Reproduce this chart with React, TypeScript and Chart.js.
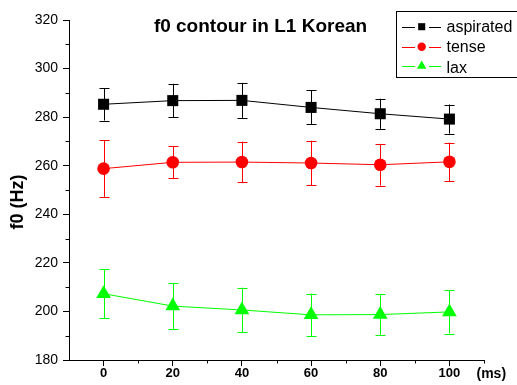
import React, { useEffect, useRef } from "react";
import { Chart, registerables } from "chart.js";

Chart.register(...registerables);

const times = [0, 20, 40, 60, 80, 100];
const aspiratedMean = [285.3, 286.8, 286.9, 284.0, 281.4, 279.2];
const aspiratedErr = [6.7, 6.9, 7.2, 7.0, 6.2, 6.0];
const tenseMean = [258.8, 261.4, 261.5, 261.1, 260.4, 261.6];
const tenseErr = [11.6, 6.6, 8.4, 9.2, 8.6, 7.9];
const laxMean = [207.3, 202.2, 200.6, 198.6, 198.7, 199.8];
const laxErr = [10.1, 9.5, 9.2, 8.7, 8.5, 8.9];

const seriesNames = ["aspirated", "tense", "lax"];
const seriesColors = ["#000000", "#ff0000", "#00ff00"];
const seriesStyles = ["rect", "circle", "triangle"];
const seriesRadius = [7.8, 6.3, 8.5];
const legendRadius = [5, 4.2, 5.4];

const yTicks = [180, 200, 220, 240, 260, 280, 300, 320];
const xTickLabels = [0, 20, 40, 60, 80, 100];

const chartTitle = "f0 contour in L1 Korean";
const yTitle = "f0 (Hz)";
const xUnit = "(ms)";

const FONT = "'Liberation Sans', Arial, Helvetica, sans-serif";

const means = [aspiratedMean, tenseMean, laxMean];
const errs = [aspiratedErr, tenseErr, laxErr];

function drawMarker(ctx: CanvasRenderingContext2D, style: string, x: number, y: number, r: number, color: string) {
  ctx.save();
  ctx.fillStyle = color;
  ctx.beginPath();
  if (style === "rect") {
    const s = Math.SQRT1_2 * r;
    ctx.rect(x - s, y - s, 2 * s, 2 * s);
  } else if (style === "circle") {
    ctx.arc(x, y, r, 0, Math.PI * 2);
  } else {
    let rad = 0;
    ctx.moveTo(x + Math.sin(rad) * r, y - Math.cos(rad) * r);
    rad += (2 * Math.PI) / 3;
    ctx.lineTo(x + Math.sin(rad) * r, y - Math.cos(rad) * r);
    rad += (2 * Math.PI) / 3;
    ctx.lineTo(x + Math.sin(rad) * r, y - Math.cos(rad) * r);
    ctx.closePath();
  }
  ctx.fill();
  ctx.restore();
}

const decorPlugin = {
  id: "decor",
  beforeDatasetsDraw(chart: any) {
    const ctx = chart.ctx as CanvasRenderingContext2D;
    const xs = chart.scales.x;
    const ys = chart.scales.y;
    ctx.save();
    ctx.lineWidth = 1;
    means.forEach((m, si) => {
      ctx.strokeStyle = seriesColors[si];
      m.forEach((v, i) => {
        const px = Math.round(xs.getPixelForValue(times[i])) + 0.5;
        const top = ys.getPixelForValue(v + errs[si][i]);
        const bot = ys.getPixelForValue(v - errs[si][i]);
        ctx.beginPath();
        ctx.moveTo(px, top);
        ctx.lineTo(px, bot);
        ctx.moveTo(px - 5, Math.round(top) + 0.5);
        ctx.lineTo(px + 5, Math.round(top) + 0.5);
        ctx.moveTo(px - 5, Math.round(bot) + 0.5);
        ctx.lineTo(px + 5, Math.round(bot) + 0.5);
        ctx.stroke();
      });
    });
    ctx.restore();
  },
  afterDraw(chart: any) {
    const ctx = chart.ctx as CanvasRenderingContext2D;
    const xs = chart.scales.x;
    const ys = chart.scales.y;
    const area = chart.chartArea;
    ctx.save();
    // minor ticks
    ctx.strokeStyle = "#000";
    ctx.lineWidth = 1;
    ctx.beginPath();
    for (let v = 190; v < 320; v += 20) {
      const py = Math.round(ys.getPixelForValue(v)) + 0.5;
      ctx.moveTo(area.left - 3.5, py);
      ctx.lineTo(area.left, py);
    }
    for (let v = 10; v <= 110; v += 20) {
      const px = Math.round(xs.getPixelForValue(v)) + 0.5;
      ctx.moveTo(px, area.bottom);
      ctx.lineTo(px, area.bottom + 3.5);
    }
    ctx.stroke();

    // title
    ctx.fillStyle = "#000";
    ctx.font = `bold 19px ${FONT}`;
    ctx.textAlign = "center";
    ctx.textBaseline = "alphabetic";
    ctx.fillText(chartTitle, 260.5, 31.5);

    // y title
    ctx.save();
    ctx.translate(22.5, 202);
    ctx.rotate(-Math.PI / 2);
    ctx.font = `bold 18px ${FONT}`;
    ctx.textAlign = "center";
    ctx.textBaseline = "alphabetic";
    ctx.fillText(yTitle, 0, 0);
    ctx.restore();

    // unit
    ctx.font = `bold 14px ${FONT}`;
    ctx.textAlign = "left";
    ctx.textBaseline = "alphabetic";
    ctx.fillText(xUnit, 476.5, 378);

    // legend
    ctx.fillStyle = "#fff";
    ctx.fillRect(396.5, 11.5, 130, 66);
    ctx.strokeStyle = "#000";
    ctx.strokeRect(396.5, 11.5, 130, 66);
    const rowsMarker = [26.7, 46.7, 66];
    const rowsText = [31.5, 52, 72.5];
    seriesNames.forEach((name, i) => {
      const cy = rowsMarker[i];
      ctx.strokeStyle = seriesColors[i];
      ctx.lineWidth = 1;
      const ly = Math.round(cy) + 0.5;
      ctx.beginPath();
      ctx.moveTo(402, ly);
      ctx.lineTo(415, ly);
      ctx.moveTo(429, ly);
      ctx.lineTo(441, ly);
      ctx.stroke();
      drawMarker(ctx, seriesStyles[i], 421.7, cy, legendRadius[i], seriesColors[i]);
      ctx.fillStyle = "#000";
      ctx.font = `16px ${FONT}`;
      ctx.textAlign = "left";
      ctx.fillText(name, 446.5, rowsText[i]);
    });
    ctx.restore();
  },
};

export default function App() {
  const ref = useRef<HTMLCanvasElement>(null);
  useEffect(() => {
    if (!ref.current) return;
    const datasets = means.map((m, si) => ({
      label: seriesNames[si],
      data: m.map((v, i) => ({ x: times[i], y: v })),
      borderColor: seriesColors[si],
      backgroundColor: seriesColors[si],
      borderWidth: 1,
      pointStyle: seriesStyles[si] as any,
      pointRadius: seriesRadius[si],
      pointBorderWidth: 0,
      pointBackgroundColor: seriesColors[si],
      pointBorderColor: seriesColors[si],
      tension: 0,
    }));
    const chart = new Chart(ref.current, {
      type: "line",
      data: { datasets },
      options: {
        animation: false,
        responsive: false,
        layout: { padding: { top: 20, right: 33, left: 0, bottom: 0 } },
        plugins: { legend: { display: false }, title: { display: false }, tooltip: { enabled: false } },
        scales: {
          x: {
            type: "linear",
            min: -10,
            max: 110,
            afterFit: (s: any) => {
              s.height = 25;
            },
            afterBuildTicks: (s: any) => {
              s.ticks = xTickLabels.map((v) => ({ value: v }));
            },
            border: { display: true, color: "#000", width: 1 },
            grid: { drawOnChartArea: false, drawTicks: true, tickLength: 6, tickColor: "#000" },
            ticks: {
              color: "#000",
              padding: 0,
              maxRotation: 0,
              autoSkip: false,
              font: { family: FONT, size: 13, weight: "bold" },
            },
          },
          y: {
            type: "linear",
            min: 180,
            max: 320,
            afterFit: (s: any) => {
              s.width = 69;
            },
            afterBuildTicks: (s: any) => {
              s.ticks = yTicks.map((v) => ({ value: v }));
            },
            border: { display: true, color: "#000", width: 1 },
            grid: { drawOnChartArea: false, drawTicks: true, tickLength: 6, tickColor: "#000" },
            ticks: {
              color: "#000",
              padding: 5,
              autoSkip: false,
              font: { family: FONT, size: 14 },
            },
          },
        },
      },
      plugins: [decorPlugin],
    });
    return () => chart.destroy();
  }, []);
  return (
    <div style={{ position: "fixed", left: 0, top: 0, width: 517, height: 385, background: "#fff" }}>
      <canvas ref={ref} width={517} height={385} style={{ display: "block" }} />
    </div>
  );
}
